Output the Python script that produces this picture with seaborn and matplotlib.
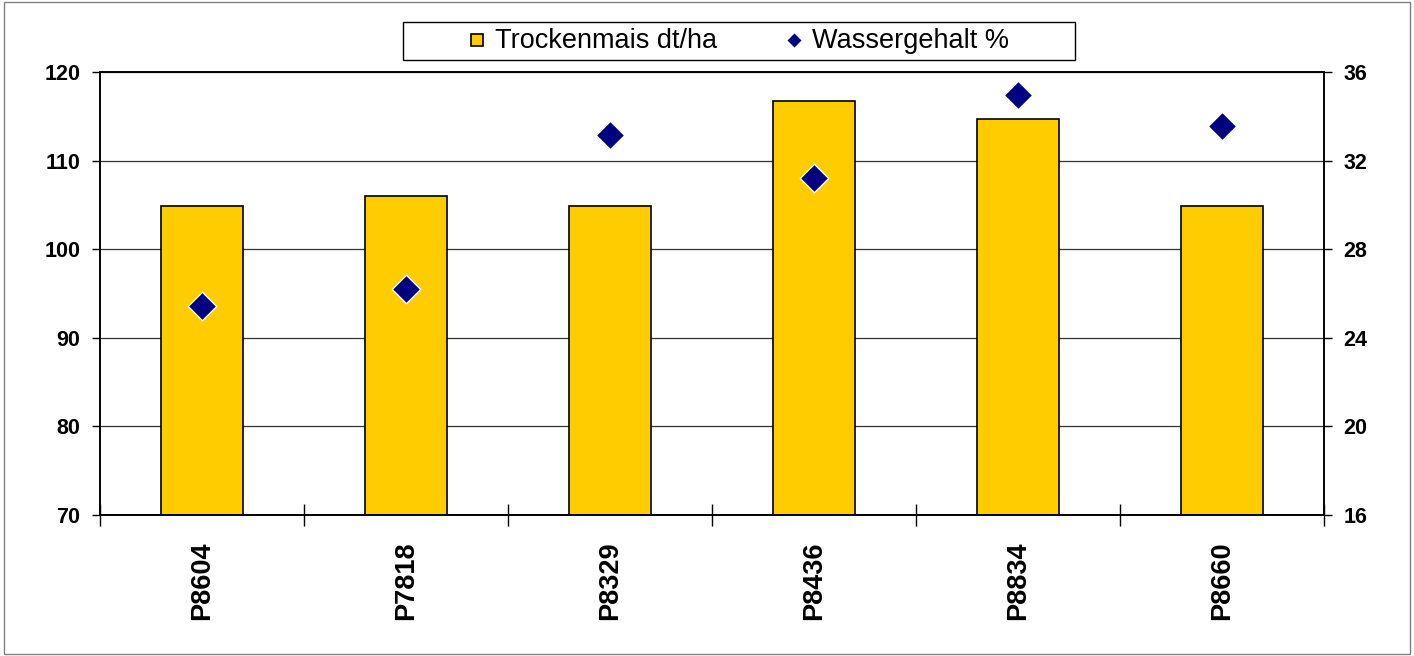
import matplotlib
matplotlib.use("Agg")
import matplotlib.pyplot as plt
import seaborn as sns
import pandas as pd
from matplotlib.patches import Rectangle
from matplotlib.lines import Line2D

categories = ["P8604", "P7818", "P8329", "P8436", "P8834", "P8660"]
ertrag = [104.9, 106.0, 104.9, 116.7, 114.7, 104.9]
wasser = [25.45, 26.2, 33.15, 31.2, 34.95, 33.55]
left_ticks = [70, 80, 90, 100, 110, 120]
right_ticks = [16, 20, 24, 28, 32, 36]

sns.set_theme(style="white")
plt.rcParams["font.family"] = ["Liberation Sans", "DejaVu Sans"]
plt.rcParams["text.color"] = "black"
plt.rcParams["xtick.color"] = "black"
plt.rcParams["ytick.color"] = "black"
plt.rcParams["axes.labelcolor"] = "black"

df = pd.DataFrame({"Sorte": categories, "Ertrag": ertrag, "Wasser": wasser})

fig = plt.figure(figsize=(14.14, 6.56), dpi=100)
ax = fig.add_axes([100/1414, 141/656, 1224/1414, 443/656])

sns.barplot(data=df, x="Sorte", y="Ertrag", ax=ax, color="#FFCC00",
            width=0.4, edgecolor="black", linewidth=1.2, saturation=1)
ax.set_ylim(70, 120)
ax.set_yticks(left_ticks)
ax.set_xlim(-0.5, len(categories) - 0.5)
ax.yaxis.grid(True, color="#333333", linewidth=0.9)
ax.set_axisbelow(True)
ax.set_xlabel("")
ax.set_ylabel("")

ax2 = ax.twinx()
sns.scatterplot(data=df, x="Sorte", y="Wasser", ax=ax2, marker="D", s=210,
                color="#000080", edgecolor="white", linewidth=1, zorder=5)
ax2.set_ylim(16, 36)
ax2.set_yticks(right_ticks)
ax2.set_ylabel("")
ax2.set_xlabel("")
ax.set_xlim(-0.5, len(categories) - 0.5)

for a in (ax, ax2):
    for s in a.spines.values():
        s.set_color("black")
        s.set_linewidth(1.2)

ax.tick_params(axis="y", which="both", left=True, length=6, width=1, direction="out",
               labelsize=15.5, pad=8, labelcolor="black")
for lab in ax.get_yticklabels():
    lab.set_fontweight("bold")
ax2.tick_params(axis="y", right=True, length=6, width=1, direction="out",
                labelsize=15.5, pad=8, labelcolor="black")
for lab in ax2.get_yticklabels():
    lab.set_fontweight("bold")

# category labels at centers, tick marks at boundaries
ax.set_xticks(range(len(categories)))
ax.set_xticklabels(categories, rotation=90, fontsize=19.5, fontweight="bold", color="black")
ax.tick_params(axis="x", which="major", length=0, pad=19)
ax.set_xticks([i - 0.5 for i in range(len(categories) + 1)], minor=True)
ax.tick_params(axis="x", which="minor", bottom=True, length=16, width=1,
               direction="inout", color="black")

handles = [Line2D([], [], marker="s", linestyle="none", markersize=8.5,
                  markerfacecolor="#FFCC00", markeredgecolor="black", markeredgewidth=1.2,
                  label="Trockenmais dt/ha"),
           Line2D([], [], marker="D", linestyle="none", markersize=8.5,
                  markerfacecolor="#000080", markeredgecolor="white", label="Wassergehalt %")]
leg = fig.legend(handles=handles, loc="center left", bbox_to_anchor=(471/1414, 1 - 41/656),
                 ncol=2, fontsize=19.5, frameon=False,
                 handlelength=0.45, handleheight=0.45, handletextpad=0.45, columnspacing=2.6,
                 borderpad=0.0, borderaxespad=0.0)

# legend box
fig.patches.append(Rectangle((403/1414, 1 - 60/656), 672/1414, 38/656, transform=fig.transFigure,
                             fill=False, edgecolor="black", linewidth=1))

fig.patches.append(Rectangle((0.003, 0.003), 0.994, 0.994, transform=fig.transFigure,
                             fill=False, edgecolor="#808080", linewidth=1))

fig.savefig("out.png", dpi=100)
